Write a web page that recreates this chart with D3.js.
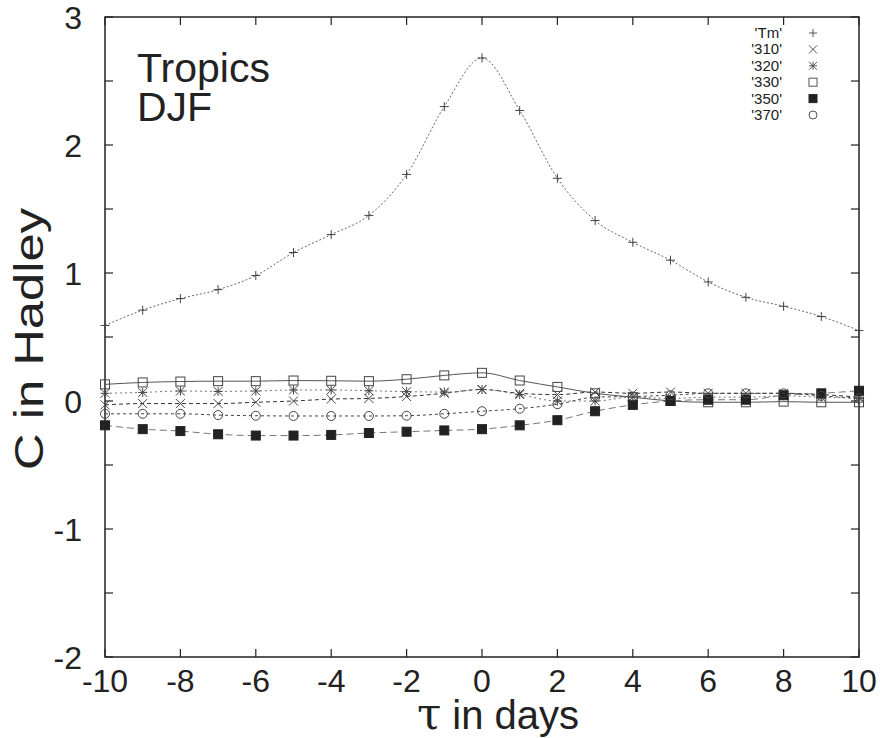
<!DOCTYPE html>
<html lang="en">
  <head>
    <meta charset="utf-8">
    <title>Tropics DJF</title>
    <style>
      body { margin: 0; background: white; }
      svg { display: block; }
      text { font-family: "Liberation Sans", Arial, sans-serif; fill: #222; }
    </style>
    <script src="https://d3js.org/d3.v7.min.js"></script>
  </head>
  <body>
    <script>
    // lag in days
    const taus = [-10,-9,-8,-7,-6,-5,-4,-3,-2,-1,0,1,2,3,4,5,6,7,8,9,10];

    const tm    = [0.59,0.71,0.80,0.87,0.98,1.16,1.30,1.45,1.77,2.30,2.68,2.27,1.74,1.41,1.24,1.10,0.93,0.81,0.74,0.66,0.55];
    const k310  = [-0.03,-0.02,-0.02,-0.02,-0.01,0.00,0.015,0.02,0.035,0.06,0.09,0.06,0.05,0.07,0.06,0.07,0.06,0.06,0.06,0.05,0.03];
    const k320  = [0.06,0.067,0.078,0.075,0.078,0.086,0.086,0.08,0.073,0.07,0.09,0.05,0.00,0.00,0.03,0.02,0.03,0.03,0.04,0.03,0.02];
    const k330  = [0.13,0.145,0.152,0.155,0.155,0.16,0.158,0.155,0.17,0.20,0.22,0.16,0.11,0.06,0.03,0.00,-0.01,-0.01,-0.005,-0.01,-0.01];
    const k350  = [-0.19,-0.22,-0.235,-0.26,-0.27,-0.27,-0.265,-0.25,-0.24,-0.23,-0.22,-0.19,-0.15,-0.08,-0.03,0.00,0.01,0.01,0.045,0.06,0.08];
    const k370  = [-0.10,-0.10,-0.10,-0.11,-0.115,-0.117,-0.117,-0.117,-0.115,-0.10,-0.08,-0.06,-0.025,0.03,0.035,0.045,0.06,0.06,0.06,0.04,0.02];

    const seriesNames = ["'Tm'","'310'","'320'","'330'","'350'","'370'"];
    const seriesVals = [tm, k310, k320, k330, k350, k370];
    const markers = ["plus","cross","star","square","filled","circle"];
    const dashes = ["2,2","4,3","2,3","none","7,4","3,3"];
    const lineCol = ["#666","#333","#777","#555","#777","#444"];

    const xTicks = [-10,-8,-6,-4,-2,0,2,4,6,8,10];
    const yTicks = [-2,-1,0,1,2,3];

    const W = 880, H = 738;
    const L = 105, R = 859, T = 17, B = 657;

    const svg = d3.select("body").append("svg")
      .attr("width", W).attr("height", H);

    const x = d3.scaleLinear().domain([-10,10]).range([L,R]);
    const y = d3.scaleLinear().domain([-2,3]).range([B,T]);

    // frame ticks (inward, mirrored)
    const tk = svg.append("g").attr("stroke","#222").attr("stroke-width",1.2);
    xTicks.forEach(v => {
      tk.append("line").attr("x1",x(v)).attr("x2",x(v)).attr("y1",B).attr("y2",B-8);
      tk.append("line").attr("x1",x(v)).attr("x2",x(v)).attr("y1",T).attr("y2",T+8);
    });
    d3.range(-2,3.01,0.5).forEach(v => {
      tk.append("line").attr("y1",y(v)).attr("y2",y(v)).attr("x1",L).attr("x2",L+8);
      tk.append("line").attr("y1",y(v)).attr("y2",y(v)).attr("x1",R).attr("x2",R-8);
    });

    svg.append("rect")
      .attr("x",L).attr("y",T).attr("width",R-L).attr("height",B-T)
      .attr("fill","none").attr("stroke","#222").attr("stroke-width",1.5);

    // tick labels
    svg.append("g").selectAll("text").data(xTicks).join("text")
      .attr("x", d => x(d)).attr("y", B+35)
      .attr("text-anchor","middle").style("font-size","32px")
      .text(d => d);
    svg.append("g").selectAll("text").data(yTicks).join("text")
      .attr("x", L-23).attr("y", d => y(d)+12)
      .attr("text-anchor","end").style("font-size","32px")
      .text(d => d);

    // axis titles
    svg.append("text")
      .attr("transform",`translate(43,${(T+B)/2+2}) rotate(-90)`)
      .attr("text-anchor","middle").style("font-size","41px")
      .attr("textLength",262).attr("lengthAdjust","spacingAndGlyphs")
      .text("C in Hadley");
    const xt = svg.append("text")
      .attr("x", 498).attr("y", 729)
      .attr("text-anchor","middle").style("font-size","40px");
    xt.append("tspan").style("font-family","'DejaVu Serif', serif").style("font-size","44px").text("τ");
    xt.append("tspan").text(" in days");

    svg.append("text").attr("x",137).attr("y",82).style("font-size","41px").text("Tropics");
    svg.append("text").attr("x",137).attr("y",121).style("font-size","41px").text("DJF");

    const line = d3.line()
      .x((d,i) => x(taus[i]))
      .y(d => y(d))
      .curve(d3.curveMonotoneX);

    function drawMarker(g, type, cx, cy, col, s) {
      if (type === "plus") {
        g.append("path").attr("d",`M${cx-s},${cy}H${cx+s}M${cx},${cy-s}V${cy+s}`)
          .attr("stroke",col).attr("stroke-width",1);
      } else if (type === "cross") {
        g.append("path").attr("d",`M${cx-s},${cy-s}L${cx+s},${cy+s}M${cx-s},${cy+s}L${cx+s},${cy-s}`)
          .attr("stroke",col).attr("stroke-width",1);
      } else if (type === "star") {
        g.append("path").attr("d",`M${cx-s},${cy}H${cx+s}M${cx},${cy-s}V${cy+s}M${cx-s},${cy-s}L${cx+s},${cy+s}M${cx-s},${cy+s}L${cx+s},${cy-s}`)
          .attr("stroke",col).attr("stroke-width",1);
      } else if (type === "square") {
        g.append("rect").attr("x",cx-s).attr("y",cy-s).attr("width",2*s).attr("height",2*s)
          .attr("fill","none").attr("stroke",col).attr("stroke-width",1);
      } else if (type === "filled") {
        g.append("rect").attr("x",cx-s).attr("y",cy-s).attr("width",2*s).attr("height",2*s)
          .attr("fill","#222").attr("stroke","#222");
      } else if (type === "circle") {
        g.append("circle").attr("cx",cx).attr("cy",cy).attr("r",s)
          .attr("fill","none").attr("stroke",col).attr("stroke-width",1);
      }
    }

    seriesVals.forEach((vals, k) => {
      const g = svg.append("g");
      g.append("path").datum(vals)
        .attr("d", line)
        .attr("fill","none")
        .attr("stroke", lineCol[k])
        .attr("stroke-width", 1)
        .attr("stroke-dasharray", dashes[k]);
      vals.forEach((v,i) => drawMarker(g, markers[k], x(taus[i]), y(v), "#444", 4.5));
    });

    // legend
    const lg = svg.append("g");
    seriesNames.forEach((n,k) => {
      const yy = 33 + k*16.4;
      lg.append("text").attr("x",782).attr("y",yy+5)
        .attr("text-anchor","end").style("font-size","15px").text(n);
      drawMarker(lg, markers[k], 813, yy, "#555", 4);
    });
    </script>
  </body>
</html>
